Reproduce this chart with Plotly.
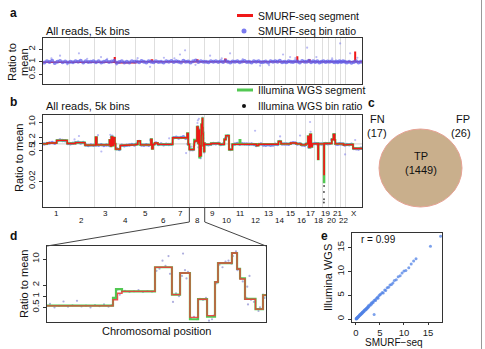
import numpy as np
import plotly.graph_objects as go

W, H = 485, 349
FONT = "Liberation Sans, Arial, sans-serif"

# ---------------- data ----------------
chrom_names = [str(i) for i in range(1, 23)] + ["X"]
chrom_len = [249, 243, 198, 191, 181, 171, 159, 146, 141, 136, 135, 134, 115,
             107, 103, 90, 81, 78, 59, 63, 48, 51, 155]

# panel a: SMURF-seq segments (start Mb within chromosome, ratio)
a_seg = [[[0, 0.97], [120, 1.0]], [[0, 1.0]], [[0, 0.98], [188, 1.25], [193, 1.0]],
         [[0, 0.95]], [[0, 1.0], [150, 1.1], [160, 1.0]], [[0, 1.0]], [[0, 1.02]],
         [[0, 1.0], [70, 1.1], [80, 1.0]], [[0, 0.98]], [[0, 1.0], [50, 1.15], [60, 1.0]],
         [[0, 1.0]], [[0, 0.99]], [[0, 0.97]], [[0, 1.0]], [[0, 1.0]],
         [[0, 1.0], [8, 1.3], [12, 1.0]], [[0, 1.0], [30, 1.1], [40, 1.0]], [[0, 0.98]],
         [[0, 1.0]], [[0, 1.02]], [[0, 1.0]], [[0, 1.0]], [[0, 1.0], [88, 1.7], [92, 1.0]]]
a_bins = [
    [0.95, 1.02, 0.98, 1.05, 0.93, 1.0, 1.04, 0.97, 1.01, 0.96],
    [1.0, 0.97, 1.03, 0.99, 1.05, 0.96, 1.02, 0.98, 1.0, 1.03],
    [0.97, 1.02, 0.95, 1.0, 1.04, 0.98, 1.01, 1.06],
    [0.94, 0.98, 1.02, 0.96, 1.0, 0.95, 1.03, 0.99],
    [1.01, 0.97, 1.04, 0.99, 0.95, 1.02, 1.0, 0.97],
    [1.03, 0.98, 1.0, 0.95, 1.02, 0.99, 1.04],
    [0.98, 1.02, 1.0, 0.96, 1.05, 0.99, 1.01],
    [0.96, 1.03, 1.07, 0.98, 1.02, 1.0],
    [1.0, 0.97, 1.03, 0.99, 1.02, 0.98],
    [1.02, 0.98, 1.06, 1.0, 0.96, 1.01],
    [0.99, 1.03, 0.97, 1.01, 1.04, 0.98],
    [1.0, 0.96, 1.02, 0.99, 1.03, 0.97],
    [0.98, 1.01, 0.96, 1.03, 1.0],
    [1.02, 0.99, 1.05, 0.97, 1.0],
    [0.97, 1.03, 1.0, 0.98, 1.02],
    [1.01, 0.96, 1.04, 0.99],
    [1.0, 1.05, 0.97, 1.02],
    [0.98, 1.02, 0.96, 1.0],
    [1.03, 0.98, 1.01],
    [0.99, 1.02, 0.97],
    [1.01, 0.97, 1.03],
    [0.98, 1.02, 1.0],
    [0.96, 1.0, 0.94, 0.98, 1.02, 0.95, 0.99],
]
a_out_pos = [162, 342, 552, 1303, 1351, 1589, 1779, 2283, 2350, 2512, 2826, 2921,
             1018, 2065, 80, 420, 700, 900, 1150, 1450, 1700, 1900, 2150, 2600, 2750,
             2990, 230, 610, 1250, 2400]
a_out_val = [1.4, 1.6, 1.3, 1.5, 1.9, 1.4, 1.6, 1.5, 1.3, 2.2, 2.8, 1.6,
             0.75, 0.8, 1.2, 1.18, 0.85, 1.22, 1.25, 0.84, 1.2, 1.15, 0.82, 1.3, 1.2,
             1.25, 0.86, 1.17, 1.2, 1.22]

# panel d (chromosome 8): segments and bins (Mb within chr8)
d_seg_start = [0, 44, 47, 50, 72, 83.3, 88.7, 95.3, 100.7, 106.7, 112, 114, 123.3,
               126.7, 128.7, 132, 139, 144]
d_seg_val = [0.55, 0.8, 1.2, 1.35, 6.0, 1.1, 4.2, 0.27, 0.83, 0.3, 2.4, 7.8, 14.5,
             5.4, 2.9, 0.83, 0.45, 1.07]
d_ill_start = [0, 44, 46, 50, 72, 83.3, 88.7, 95.3, 100.7, 106.7, 112, 114, 123.3,
               126.7, 128.7, 132, 139, 144]
d_ill_val = [0.56, 0.9, 1.55, 1.35, 6.0, 1.1, 4.2, 0.24, 0.83, 0.28, 2.4, 7.8, 14.5,
             5.4, 3.0, 0.85, 0.45, 1.07]
d_bin_pos = [2, 5, 8, 11, 14, 17, 20, 23, 26, 29, 32, 35, 38, 41, 43,
             45, 47, 48.5, 52, 55, 58, 61, 64, 67, 70,
             73, 75, 77, 79, 81, 82, 84, 86, 88,
             90, 90.7, 92, 93, 94, 96, 98, 100, 102, 104, 106, 108, 110, 111,
             113, 115, 117, 119, 121, 123, 124, 126, 127, 129, 130.5,
             133, 134, 136, 138, 141, 142, 144, 145, 135, 133.5]
d_bin_val = [0.62, 0.5, 0.55, 0.72, 0.52, 0.57, 0.75, 0.53, 0.56, 0.5, 0.58, 0.54, 0.6, 0.52, 0.57,
             0.85, 1.5, 1.1, 1.4, 1.3, 1.35, 1.45, 1.3, 1.38, 1.32,
             4.8, 5.5, 9, 6.5, 12, 4, 0.7, 1.2, 1.0,
             3.5, 14, 5, 3, 4.5, 0.25, 0.28, 0.24, 0.85, 0.8, 0.9, 0.22, 0.24, 0.3,
             2.2, 7, 6, 8.5, 9, 7.5, 12, 16, 5, 3, 2.5,
             0.9, 0.6, 0.8, 0.7, 0.4, 0.5, 1.1, 0.9, 3.5, 1.8]

# panel b: segments per chromosome (chr8 taken from panel d)
b_seg = [
    [[0, 1.0], [40, 1.1], [130, 1.45], [230, 1.05]],
    [[0, 1.05], [60, 1.15], [150, 0.88]],
    [[0, 0.88], [8, 2.0], [20, 0.9], [140, 1.5], [150, 0.8], [158, 2.1], [170, 0.85], [178, 1.9], [192, 1.0]],
    [[0, 0.58], [45, 0.85], [120, 0.92]],
    [[0, 0.95], [20, 1.35], [45, 0.9], [145, 1.6], [155, 0.6], [165, 0.95]],
    [[0, 1.1], [30, 0.95]],
    [[0, 1.9], [138, 3.0], [148, 0.95]],
    None,
    [[0, 0.95], [60, 1.05]],
    [[0, 0.95], [45, 1.6], [60, 2.4], [90, 0.55], [122, 0.95]],
    [[0, 1.0]],
    [[0, 0.97], [80, 0.85], [100, 0.97]],
    [[0, 0.9]],
    [[0, 0.97], [40, 1.3], [65, 1.0]],
    [[0, 1.0], [50, 1.1]],
    [[0, 1.0], [45, 0.9]],
    [[0, 1.0], [20, 2.2], [30, 0.7], [40, 2.7], [52, 0.75], [62, 1.0]],
    [[0, 1.05], [35, 0.2], [40, 1.0]],
    [[0, 1.0], [14, 0.04], [17, 1.05]],
    [[0, 1.05], [30, 1.6], [45, 2.7], [58, 1.5]],
    [[0, 1.0]],
    [[0, 1.0], [30, 0.9]],
    [[0, 0.95], [70, 0.62]],
]
b_ill_chr11 = [[0, 1.0], [55, 1.5], [62, 1.0]]
b_ill_chr19 = [[0, 1.0], [14, 0.018], [17, 1.05]]
b_bins = [
    [1.0, 1.05, 1.1, 1.15, 1.08, 1.4, 1.5, 1.42, 1.38, 1.05],
    [1.02, 1.08, 1.12, 1.18, 1.1, 1.15, 0.9, 0.85, 0.9, 0.86],
    [0.9, 0.88, 0.92, 0.85, 0.9, 0.87, 2.0, 1.8],
    [0.6, 0.55, 0.86, 0.82, 0.88, 0.9, 0.95, 0.9],
    [0.98, 1.3, 0.9, 0.88, 0.92, 0.87, 1.5, 0.95],
    [1.1, 0.95, 0.98, 0.92, 0.96, 0.93, 0.97],
    [1.9, 2.0, 1.85, 1.95, 2.1, 1.8, 1.0],
    [],
    [0.95, 0.92, 0.97, 1.05, 1.02, 1.08],
    [0.95, 1.0, 1.7, 2.3, 0.55, 0.9],
    [1.0, 1.05, 0.97, 1.02, 0.98, 1.0],
    [0.97, 1.0, 0.95, 0.85, 0.95, 0.98],
    [0.9, 0.88, 0.92, 0.87, 0.9],
    [0.97, 0.95, 1.3, 1.0, 0.98],
    [1.0, 0.97, 1.08, 1.12, 1.1],
    [1.0, 1.02, 0.9, 0.88],
    [1.0, 0.72, 0.75, 1.0],
    [1.05, 1.0, 1.0, 0.98],
    [1.0, 1.05, 1.02],
    [1.05, 1.55, 2.6],
    [1.0, 0.97, 1.02],
    [1.0, 0.98, 0.9],
    [0.95, 0.92, 0.97, 0.62, 0.6, 0.58, 0.63],
]
b_out_pos = [342, 523, 555, 640, 660, 1361, 2017, 2255, 2445, 2540, 2545, 2873, 2969, 1200, 300]
b_out_val = [2.3, 2.5, 0.45, 2.6, 2.4, 0.38, 4.0, 2.2, 2.4, 10, 3.6, 0.33, 1.5, 1.8, 1.6]
b_ill_pos = [2672, 2672.5, 2671.5, 2673, 1480]
b_ill_val = [0.0063, 0.003, 0.0021, 0.012, 1.0]

# panel c
venn_labels = ["FN", "FP", "TP"]
venn_counts = [17, 26, 1449]

# panel e
smurf_e = [0.05, 0.1, 0.15, 0.2, 0.25, 0.3, 0.35, 0.4, 0.5, 0.55, 0.6, 0.7, 0.75, 0.8, 0.9,
           1.0, 1.05, 1.1, 1.2, 1.3, 1.35, 1.4, 1.5, 1.6, 1.7, 1.8, 1.9, 2.0, 2.1, 2.2,
           2.3, 2.4, 2.5, 2.6, 2.7, 2.9, 3.0, 3.2, 3.3, 3.5, 3.6, 3.8, 4.0, 4.1, 4.3,
           4.5, 4.6, 4.8, 5.0, 5.2, 5.5, 5.7, 6.0, 6.2, 6.5, 6.8, 7.1, 7.4, 7.7, 8.0,
           8.4, 8.8, 9.2, 9.6, 10.0, 10.4, 11.0, 11.5, 12.0, 12.5, 15.5, 17.6, 3.8]
illumina_e = [0.1, 0.05, 0.2, 0.15, 0.3, 0.25, 0.4, 0.45, 0.45, 0.6, 0.55, 0.75, 0.7, 0.9, 0.85,
              1.1, 0.95, 1.2, 1.15, 1.4, 1.3, 1.5, 1.45, 1.7, 1.6, 1.9, 1.85, 2.1, 2.0, 2.3,
              2.2, 2.5, 2.4, 2.8, 2.6, 3.0, 2.9, 3.4, 3.2, 3.6, 3.5, 3.9, 4.1, 3.9, 4.4,
              4.6, 4.4, 4.9, 5.1, 5.3, 5.6, 5.5, 6.1, 6.0, 6.6, 6.7, 7.2, 7.3, 7.6, 8.1,
              8.3, 8.9, 9.1, 9.7, 10.1, 10.2, 10.8, 11.6, 12.2, 12.7, 15.3, 17.4, 1.0]
r_value = 0.99

# ---------------- helpers ----------------
offsets = np.concatenate([[0], np.cumsum(chrom_len)[:-1]])
total = float(np.sum(chrom_len))
bounds = list(np.cumsum(chrom_len)[:-1])


def px(x):
    return x / W


def py(y):
    return 1 - y / H


def steps(seg_list):
    xs, ys = [], []
    for segs, off, L in zip(seg_list, offsets, chrom_len):
        for i, (s, v) in enumerate(segs):
            e = segs[i + 1][0] if i + 1 < len(segs) else L
            xs += [off + s, off + e]
            ys += [v, v]
    return xs, ys


def bins(bin_list):
    xs, ys = [], []
    for vals, off, L in zip(bin_list, offsets, chrom_len):
        n = len(vals)
        for i, v in enumerate(vals):
            xs.append(off + (i + 0.5) / n * L)
            ys.append(v)
    return xs, ys


d_seg = [[s, v] for s, v in zip(d_seg_start, d_seg_val)]
d_ill = [[s, v] for s, v in zip(d_ill_start, d_ill_val)]
b_seg_full = [d_seg if s is None else s for s in b_seg]
b_ill_full = list(b_seg_full)
b_ill_full[7] = d_ill
b_ill_full[10] = b_ill_chr11
b_ill_full[18] = b_ill_chr19

RED = "#F01818"
GREEN = "#52C852"
BLUE = "rgba(95,95,235,0.75)"
LIGHT = "rgba(130,130,235,0.55)"

fig = go.Figure()

# panel a
ax, ay = steps(a_seg)
fig.add_trace(go.Scatter(x=ax, y=ay, mode="lines", line=dict(color=RED, width=1.6),
                         xaxis="x", yaxis="y", showlegend=False))
fig.add_trace(go.Scatter(x=a_out_pos, y=a_out_val, mode="markers",
                         marker=dict(color=LIGHT, size=2.2, line=dict(width=0)),
                         xaxis="x", yaxis="y", showlegend=False))
bx, by = bins(a_bins)
fig.add_trace(go.Scatter(x=bx, y=by, mode="markers",
                         marker=dict(color=BLUE, size=4, line=dict(width=0)),
                         xaxis="x", yaxis="y", showlegend=False))

# panel b
fig.add_trace(go.Scatter(x=[0, total], y=[1, 1], mode="lines",
                         line=dict(color="#D0D0D0", width=1), xaxis="x2", yaxis="y2",
                         showlegend=False))
bbx, bby = bins(b_bins)
chr8_off = offsets[7]
fig.add_trace(go.Scatter(x=[chr8_off + p for p in d_bin_pos] + b_out_pos,
                         y=d_bin_val + b_out_val, mode="markers",
                         marker=dict(color=LIGHT, size=2.2, line=dict(width=0)),
                         xaxis="x2", yaxis="y2", showlegend=False))
fig.add_trace(go.Scatter(x=bbx, y=bby, mode="markers",
                         marker=dict(color=BLUE, size=3.5, line=dict(width=0)),
                         xaxis="x2", yaxis="y2", showlegend=False))
fig.add_trace(go.Scatter(x=b_ill_pos, y=b_ill_val, mode="markers",
                         marker=dict(color="#555", size=2), xaxis="x2", yaxis="y2",
                         showlegend=False))
gx, gy = steps(b_ill_full)
fig.add_trace(go.Scatter(x=gx, y=gy, mode="lines", line=dict(color=GREEN, width=2.2),
                         xaxis="x2", yaxis="y2", showlegend=False))
rx, ry = steps(b_seg_full)
fig.add_trace(go.Scatter(x=rx, y=ry, mode="lines", line=dict(color=RED, width=1.4),
                         xaxis="x2", yaxis="y2", showlegend=False))


# panel d
def dsteps(segs, L):
    xs, ys = [], []
    for i, (s, v) in enumerate(segs):
        e = segs[i + 1][0] if i + 1 < len(segs) else L
        xs += [s, e]
        ys += [v, v]
    return xs, ys


fig.add_trace(go.Scatter(x=d_bin_pos, y=d_bin_val, mode="markers",
                         marker=dict(color="rgba(120,120,200,0.6)", size=2.2),
                         xaxis="x3", yaxis="y3", showlegend=False))
dgx, dgy = dsteps(d_ill, chrom_len[7])
fig.add_trace(go.Scatter(x=dgx, y=dgy, mode="lines", line=dict(color=GREEN, width=2.2),
                         xaxis="x3", yaxis="y3", showlegend=False))
drx, dry = dsteps(d_seg, chrom_len[7])
fig.add_trace(go.Scatter(x=drx, y=dry, mode="lines",
                         line=dict(color="rgba(235,60,60,0.9)", width=1.4),
                         xaxis="x3", yaxis="y3", showlegend=False))

# panel e
fig.add_trace(go.Scatter(x=smurf_e, y=illumina_e, mode="markers",
                         marker=dict(color="rgba(80,130,230,0.75)", size=3),
                         xaxis="x4", yaxis="y4", showlegend=False))

frame = dict(showline=True, mirror=True, linecolor="#333", linewidth=1, zeroline=False)
tickf = dict(family=FONT, size=9.5, color="#222")
tickf_e = dict(family=FONT, size=9.5, color="#222")

fig.update_layout(
    width=W, height=H, margin=dict(l=0, r=0, t=0, b=0), autosize=False,
    paper_bgcolor="white", plot_bgcolor="white", showlegend=False,
    font=dict(family=FONT, color="#111"),
    xaxis=dict(domain=[px(43), px(362)], range=[0, total], tickvals=bounds,
               showticklabels=False, ticks="", showgrid=True, gridcolor="#DEDEDE",
               anchor="y", **frame),
    yaxis=dict(domain=[py(84.3), py(38.3)], type="log", range=[-0.553, 0.572],
               tickvals=[0.5, 1, 2], ticktext=["0.5", "1", "2"], tickangle=-90,
               ticks="outside", ticklen=3, tickcolor="#333", showgrid=False,
               tickfont=tickf, anchor="x", **frame),
    xaxis2=dict(domain=[px(43), px(362)], range=[0, total], tickvals=bounds,
                showticklabels=False, ticks="", showgrid=True, gridcolor="#DEDEDE",
                anchor="y2", **frame),
    yaxis2=dict(domain=[py(207), py(115)], type="log", range=[-2.88, 1.32],
                tickvals=[0.02, 0.5, 1, 2, 10], ticktext=["0.02", "0.5", "1", "2", "10"],
                tickangle=-90, ticks="outside", ticklen=3, tickcolor="#333",
                showgrid=False, tickfont=tickf, anchor="x2", **frame),
    xaxis3=dict(domain=[px(47), px(266)], range=[0, chrom_len[7]], showticklabels=False,
                ticks="", showgrid=False, anchor="y3", **frame),
    yaxis3=dict(domain=[py(322), py(246)], type="log", range=[-0.694, 1.35],
                tickvals=[0.5, 1, 2, 10], ticktext=["0.5", "1", "2", "10"],
                tickangle=-90, ticks="outside", ticklen=3, tickcolor="#333",
                showgrid=False, tickfont=tickf, anchor="x3", **frame),
    xaxis4=dict(domain=[px(352), px(442)], range=[-0.8, 17.9], tickvals=[0, 5, 10, 15],
                ticks="outside", ticklen=2, tickcolor="#333", showgrid=False,
                tickfont=tickf_e, anchor="y4", **frame),
    yaxis4=dict(domain=[py(322), py(233)], range=[-0.6, 18.1], tickvals=[0, 5, 10, 15],
                tickangle=-90, ticks="outside", ticklen=3, tickcolor="#333",
                showgrid=False, tickfont=tickf_e, anchor="x4", **frame),
)

ann = []


def text(x, y, s, size=11, xanchor="left", yanchor="middle", angle=0, color="#111"):
    ann.append(dict(x=px(x), y=py(y), xref="paper", yref="paper", text=s,
                    showarrow=False, xanchor=xanchor, yanchor=yanchor, textangle=angle,
                    font=dict(family=FONT, size=size, color=color)))


# panel letters
for lab, (lx, ly) in zip("abcde", [(8, 13), (8, 102), (366, 103), (8, 236), (319, 236)]):
    text(lx, ly, "<b>%s</b>" % lab, size=12)

text(44, 31, "All reads, 5k bins", size=11)
text(44, 106, "All reads, 5k bins", size=11)
text(256, 15.5, "SMURF-seq segment", size=10.5)
text(256, 31, "SMURF-seq bin ratio", size=10.5)
text(256, 90, "Illumina WGS segment", size=10.5)
text(256, 106, "Illumina WGS bin ratio", size=10.5)
text(12, 62, "Ratio to", size=11, xanchor="center", angle=-90)
text(24, 62, "mean", size=11, xanchor="center", angle=-90)
text(19, 158, "Ratio to mean", size=11, xanchor="center", angle=-90)
text(24, 284, "Ratio to mean", size=11, xanchor="center", angle=-90)
text(156, 331, "Chromosomal position", size=11, xanchor="center")
text(328, 278, "Illumina WGS", size=11, xanchor="center", angle=-90)
text(394, 349.5, "SMURF−seq", size=10, xanchor="center", yanchor="bottom")
text(359, 240, "r = %.2f" % r_value, size=10)

# Venn labels
text(377, 119, venn_labels[0], size=11, xanchor="center")
text(377, 133, "(%d)" % venn_counts[0], size=11, xanchor="center")
text(463, 119, venn_labels[1], size=11, xanchor="center")
text(461, 133, "(%d)" % venn_counts[1], size=11, xanchor="center")
text(421, 156, venn_labels[2], size=11, xanchor="center")
text(421, 170, "(%d)" % venn_counts[2], size=11, xanchor="center")

# chromosome labels
x2_l, x2_r = 43, 362
for i, (name, off, L) in enumerate(zip(chrom_names, offsets, chrom_len)):
    cx = x2_l + (off + L / 2) / total * (x2_r - x2_l)
    text(cx, 213 if i % 2 == 0 else 220, name, size=8, xanchor="center")

fig.update_layout(annotations=ann)

shapes = []
# legend glyphs
shapes.append(dict(type="line", xref="paper", yref="paper", x0=px(237), x1=px(253),
                   y0=py(15.5), y1=py(15.5), line=dict(color=RED, width=3)))
shapes.append(dict(type="circle", xref="paper", yref="paper", x0=px(241.5), x1=px(246.5),
                   y0=py(33.5), y1=py(28.5), fillcolor="#7B7BEF", line=dict(width=0)))
shapes.append(dict(type="line", xref="paper", yref="paper", x0=px(237), x1=px(253),
                   y0=py(90), y1=py(90), line=dict(color=GREEN, width=3)))
shapes.append(dict(type="circle", xref="paper", yref="paper", x0=px(242), x1=px(246),
                   y0=py(108), y1=py(104), fillcolor="#111", line=dict(width=0)))
# Venn circle
shapes.append(dict(type="circle", xref="paper", yref="paper", x0=px(379), x1=px(462),
                   y0=py(207), y1=py(129), fillcolor="#C9AF8C",
                   line=dict(color="#E6A294", width=1)))
# zoom connector chr8
c8a = x2_l + offsets[7] / total * (x2_r - x2_l)
c8b = x2_l + (offsets[7] + chrom_len[7]) / total * (x2_r - x2_l)
for cx, dx in [(c8a, 47), (c8b, 266)]:
    shapes.append(dict(type="line", xref="paper", yref="paper", x0=px(cx), x1=px(cx),
                       y0=py(207), y1=py(222), line=dict(color="#444", width=1)))
    shapes.append(dict(type="line", xref="paper", yref="paper", x0=px(cx), x1=px(dx),
                       y0=py(222), y1=py(246), line=dict(color="#444", width=1)))
# right border line
shapes.append(dict(type="line", xref="paper", yref="paper", x0=px(481.5), x1=px(481.5),
                   y0=0, y1=1, line=dict(color="#999", width=1)))
fig.update_layout(shapes=shapes)

fig.write_html("out.html")
